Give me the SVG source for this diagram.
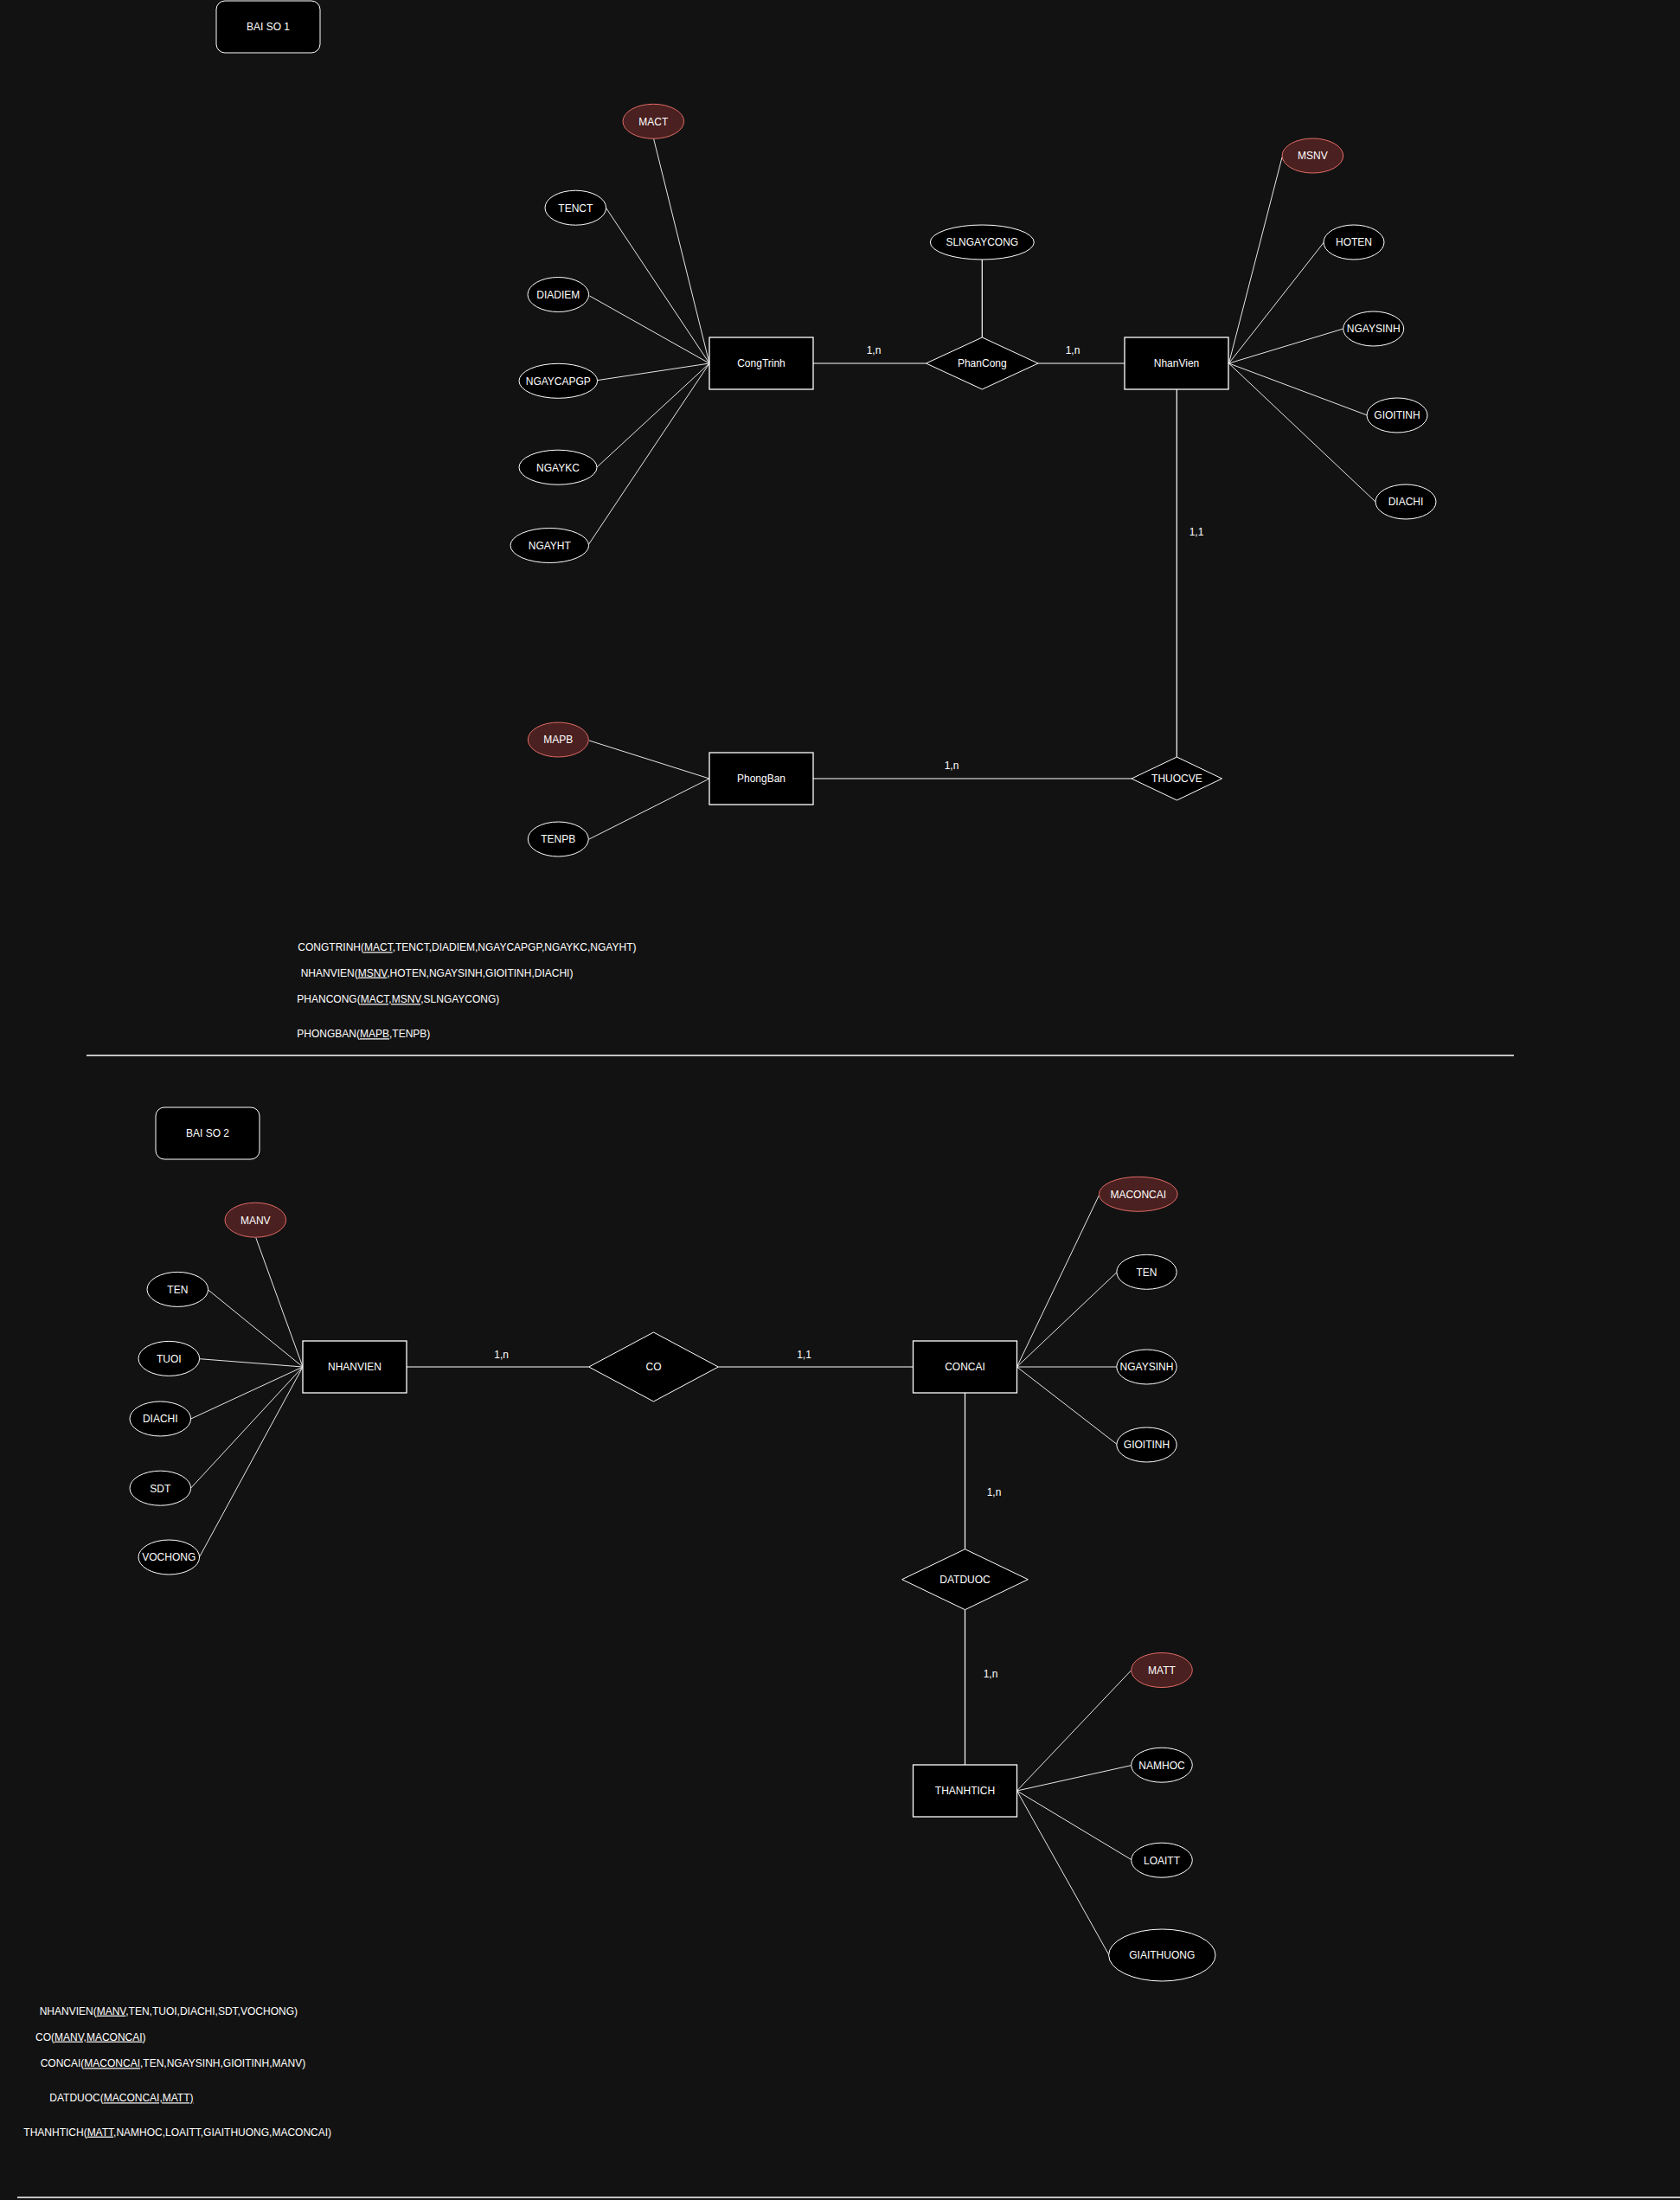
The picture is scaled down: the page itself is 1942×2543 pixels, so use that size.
<svg xmlns="http://www.w3.org/2000/svg" width="1942" height="2543" viewBox="0 0 1942 2543">
<style>
.ent{fill:#000;stroke:#fff;stroke-width:1.3}
.attr{fill:#000;stroke:#fff;stroke-width:1}
.key{fill:#4a2020;stroke:#e06c66;stroke-width:1}
.rel{fill:#000;stroke:#fff;stroke-width:1}
.title{fill:#000;stroke:#fff;stroke-width:1}
.t{font-family:"Liberation Sans",Arial,Helvetica,sans-serif;font-size:12px;fill:#fff}
.c{text-anchor:middle}
.ln{stroke:#fff;stroke-width:1.2;fill:none}
.al{stroke:#e6e6e6;stroke-width:1;fill:none}
.sep{stroke:#fff;stroke-width:1.5;fill:none}
.u{text-decoration:underline}
</style>
<rect x="0" y="0" width="1942" height="2543" fill="#121212"/>

<g id="connectors">
  <path class="al" d="M755.5,160 L820,420"/>
  <path class="al" d="M700.7,240.5 L820,420"/>
  <path class="al" d="M681.5,342 L820,420"/>
  <path class="al" d="M690.7,439.6 L820,420"/>
  <path class="al" d="M690,540 L820,420"/>
  <path class="al" d="M680,630 L820,420"/>
  <path class="ln" d="M940,420 L1070.5,420"/>
  <path class="ln" d="M1135.3,300 L1135.3,390"/>
  <path class="ln" d="M1200,420 L1300,420"/>
  <path class="al" d="M1420.5,420 L1482,181.7"/>
  <path class="al" d="M1420.5,420 L1530.4,280"/>
  <path class="al" d="M1420.5,420 L1552.7,380"/>
  <path class="al" d="M1420.5,420 L1580.4,480"/>
  <path class="al" d="M1420.5,420 L1590,580"/>
  <path class="ln" d="M1360.3,450 L1360.3,875"/>
  <path class="ln" d="M940,900 L1308,900"/>
  <path class="al" d="M681,856 L820,900"/>
  <path class="al" d="M681,970 L820,900"/>

  <path class="al" d="M295.7,1430.5 L350,1580"/>
  <path class="al" d="M240.7,1491 L350,1580"/>
  <path class="al" d="M230.7,1570.7 L350,1580"/>
  <path class="al" d="M220.7,1640 L350,1580"/>
  <path class="al" d="M220.7,1720 L350,1580"/>
  <path class="al" d="M230.7,1799.5 L350,1580"/>
  <path class="ln" d="M470,1580 L680.7,1580"/>
  <path class="ln" d="M830.3,1580 L1055,1580"/>
  <path class="al" d="M1175.5,1580 L1270.4,1381.7"/>
  <path class="al" d="M1175.5,1580 L1290.9,1470.7"/>
  <path class="al" d="M1175.5,1580 L1290.9,1580"/>
  <path class="al" d="M1175.5,1580 L1290.9,1669.3"/>
  <path class="ln" d="M1115.5,1610 L1115.5,1790.7"/>
  <path class="ln" d="M1115.5,1860.7 L1115.5,2040"/>
  <path class="al" d="M1175.5,2070 L1307.7,1930.7"/>
  <path class="al" d="M1175.5,2070 L1307.7,2040.6"/>
  <path class="al" d="M1175.5,2070 L1307.7,2149.6"/>
  <path class="al" d="M1175.5,2070 L1281.7,2259.4"/>

  <text class="t c" x="1010" y="409.3">1,n</text>
  <text class="t c" x="1240" y="409.3">1,n</text>
  <text class="t c" x="1383" y="619.3">1,1</text>
  <text class="t c" x="1100" y="889.3">1,n</text>
  <text class="t c" x="579.7" y="1570.3">1,n</text>
  <text class="t c" x="929.5" y="1570.3">1,1</text>
  <text class="t c" x="1149" y="1729.3">1,n</text>
  <text class="t c" x="1145" y="1939.3">1,n</text>
</g>

<g id="separators">
  <path class="sep" d="M100,1220 L1750,1220"/>
  <path class="sep" d="M20,2540 L1942,2540"/>
</g>

<g id="title1"><rect class="title" x="250" y="1" width="120" height="60" rx="10"/><text class="t c" x="310" y="35.3">BAI SO 1</text></g>
<g id="title2"><rect class="title" x="180" y="1280" width="120" height="60" rx="10"/><text class="t c" x="240" y="1314.3">BAI SO 2</text></g>

<g id="MACT"><ellipse class="key" cx="755.3" cy="140.3" rx="35.3" ry="20"/><text class="t c" x="755.3" y="144.6">MACT</text></g>
<g id="TENCT"><ellipse class="attr" cx="665.3" cy="240.2" rx="35.3" ry="20"/><text class="t c" x="665.3" y="244.5">TENCT</text></g>
<g id="DIADIEM"><ellipse class="attr" cx="645.3" cy="340.5" rx="35.3" ry="20"/><text class="t c" x="645.3" y="344.8">DIADIEM</text></g>
<g id="NGAYCAPGP"><ellipse class="attr" cx="645.3" cy="440.3" rx="45.3" ry="20"/><text class="t c" x="645.3" y="444.6">NGAYCAPGP</text></g>
<g id="NGAYKC"><ellipse class="attr" cx="645" cy="540.2" rx="45" ry="20"/><text class="t c" x="645" y="544.5">NGAYKC</text></g>
<g id="NGAYHT"><ellipse class="attr" cx="635.3" cy="630.5" rx="45.3" ry="20"/><text class="t c" x="635.3" y="634.8">NGAYHT</text></g>
<g id="CongTrinh"><rect class="ent" x="820" y="390" width="120" height="60"/><text class="t c" x="880" y="424.3">CongTrinh</text></g>
<g id="SLNGAYCONG"><ellipse class="attr" cx="1135.3" cy="280" rx="60" ry="20"/><text class="t c" x="1135.3" y="284.3">SLNGAYCONG</text></g>
<g id="PhanCong"><polygon class="rel" points="1070.5,420 1135.3,390 1200,420 1135.3,450"/><text class="t c" x="1135.3" y="424.3">PhanCong</text></g>
<g id="NhanVien"><rect class="ent" x="1300" y="390" width="120" height="60"/><text class="t c" x="1360" y="424.3">NhanVien</text></g>
<g id="MSNV"><ellipse class="key" cx="1517.4" cy="180" rx="35.3" ry="20"/><text class="t c" x="1517.4" y="184.3">MSNV</text></g>
<g id="HOTEN"><ellipse class="attr" cx="1565" cy="280" rx="35" ry="20"/><text class="t c" x="1565" y="284.3">HOTEN</text></g>
<g id="NGAYSINH1"><ellipse class="attr" cx="1587.7" cy="380" rx="35" ry="20"/><text class="t c" x="1587.7" y="384.3">NGAYSINH</text></g>
<g id="GIOITINH1"><ellipse class="attr" cx="1615" cy="480" rx="35" ry="20"/><text class="t c" x="1615" y="484.3">GIOITINH</text></g>
<g id="DIACHI1"><ellipse class="attr" cx="1625" cy="580" rx="35" ry="20"/><text class="t c" x="1625" y="584.3">DIACHI</text></g>
<g id="THUOCVE"><polygon class="rel" points="1308,900 1360.4,875 1412.5,900 1360.4,925"/><text class="t c" x="1360.4" y="904.3">THUOCVE</text></g>
<g id="PhongBan"><rect class="ent" x="820" y="870" width="120" height="60"/><text class="t c" x="880" y="904.3">PhongBan</text></g>
<g id="MAPB"><ellipse class="key" cx="645.3" cy="855" rx="35" ry="20"/><text class="t c" x="645.3" y="859.3">MAPB</text></g>
<g id="TENPB"><ellipse class="attr" cx="645.3" cy="970" rx="35" ry="20"/><text class="t c" x="645.3" y="974.3">TENPB</text></g>

<g id="schema1">
  <text class="t" x="344.3" y="1099.3">CONGTRINH(<tspan class="u">MACT</tspan>,TENCT,DIADIEM,NGAYCAPGP,NGAYKC,NGAYHT)</text>
  <text class="t" x="347.7" y="1128.6">NHANVIEN(<tspan class="u">MSNV</tspan>,HOTEN,NGAYSINH,GIOITINH,DIACHI)</text>
  <text class="t" x="343.3" y="1159.3">PHANCONG(<tspan class="u">MACT,MSNV</tspan>,SLNGAYCONG)</text>
  <text class="t" x="343.3" y="1199.3">PHONGBAN(<tspan class="u">MAPB</tspan>,TENPB)</text>
</g>

<g id="MANV"><ellipse class="key" cx="295.3" cy="1410.2" rx="35.3" ry="20"/><text class="t c" x="295.3" y="1414.5">MANV</text></g>
<g id="TEN2"><ellipse class="attr" cx="205.3" cy="1490.4" rx="35.3" ry="20"/><text class="t c" x="205.3" y="1494.7">TEN</text></g>
<g id="TUOI"><ellipse class="attr" cx="195.3" cy="1570.4" rx="35.3" ry="20"/><text class="t c" x="195.3" y="1574.7">TUOI</text></g>
<g id="DIACHI2"><ellipse class="attr" cx="185.3" cy="1640" rx="35.3" ry="20"/><text class="t c" x="185.3" y="1644.3">DIACHI</text></g>
<g id="SDT"><ellipse class="attr" cx="185.3" cy="1720.2" rx="35.3" ry="20"/><text class="t c" x="185.3" y="1724.5">SDT</text></g>
<g id="VOCHONG"><ellipse class="attr" cx="195.3" cy="1800" rx="35.3" ry="20"/><text class="t c" x="195.3" y="1804.3">VOCHONG</text></g>
<g id="NHANVIEN"><rect class="ent" x="350" y="1550" width="120" height="60"/><text class="t c" x="410" y="1584.3">NHANVIEN</text></g>
<g id="CO"><polygon class="rel" points="680.7,1580 755.5,1540 830.3,1580 755.5,1620"/><text class="t c" x="755.5" y="1584.3">CO</text></g>
<g id="CONCAI"><rect class="ent" x="1055.5" y="1550" width="120" height="60"/><text class="t c" x="1115.5" y="1584.3">CONCAI</text></g>
<g id="MACONCAI"><ellipse class="key" cx="1315.8" cy="1380.3" rx="45.4" ry="20"/><text class="t c" x="1315.8" y="1384.6">MACONCAI</text></g>
<g id="TEN3"><ellipse class="attr" cx="1325.5" cy="1470.3" rx="34.7" ry="20"/><text class="t c" x="1325.5" y="1474.6">TEN</text></g>
<g id="NGAYSINH2"><ellipse class="attr" cx="1325.5" cy="1580" rx="34.7" ry="20"/><text class="t c" x="1325.5" y="1584.3">NGAYSINH</text></g>
<g id="GIOITINH2"><ellipse class="attr" cx="1325.5" cy="1670" rx="34.7" ry="20"/><text class="t c" x="1325.5" y="1674.3">GIOITINH</text></g>
<g id="DATDUOC"><polygon class="rel" points="1042.7,1825.7 1115.5,1790.7 1188.3,1825.7 1115.5,1860.7"/><text class="t c" x="1115.5" y="1830">DATDUOC</text></g>
<g id="THANHTICH"><rect class="ent" x="1055.5" y="2040" width="120" height="60"/><text class="t c" x="1115.5" y="2074.3">THANHTICH</text></g>
<g id="MATT"><ellipse class="key" cx="1343" cy="1930.5" rx="35.3" ry="20"/><text class="t c" x="1343" y="1934.8">MATT</text></g>
<g id="NAMHOC"><ellipse class="attr" cx="1343" cy="2040.2" rx="35.3" ry="20"/><text class="t c" x="1343" y="2044.5">NAMHOC</text></g>
<g id="LOAITT"><ellipse class="attr" cx="1343" cy="2150.2" rx="35.3" ry="20"/><text class="t c" x="1343" y="2154.5">LOAITT</text></g>
<g id="GIAITHUONG"><ellipse class="attr" cx="1343.3" cy="2260" rx="61.7" ry="30"/><text class="t c" x="1343.3" y="2264.3">GIAITHUONG</text></g>

<g id="schema2">
  <text class="t" x="45.7" y="2328.6">NHANVIEN(<tspan class="u">MANV</tspan>,TEN,TUOI,DIACHI,SDT,VOCHONG)</text>
  <text class="t" x="41" y="2358.6">CO(<tspan class="u">MANV,MACONCAI</tspan>)</text>
  <text class="t" x="46.7" y="2389.3">CONCAI(<tspan class="u">MACONCAI</tspan>,TEN,NGAYSINH,GIOITINH,MANV)</text>
  <text class="t" x="57.3" y="2429.3">DATDUOC(<tspan class="u">MACONCAI,MATT)</tspan></text>
  <text class="t" x="27.3" y="2468.6">THANHTICH(<tspan class="u">MATT</tspan>,NAMHOC,LOAITT,GIAITHUONG,MACONCAI)</text>
</g>
</svg>
